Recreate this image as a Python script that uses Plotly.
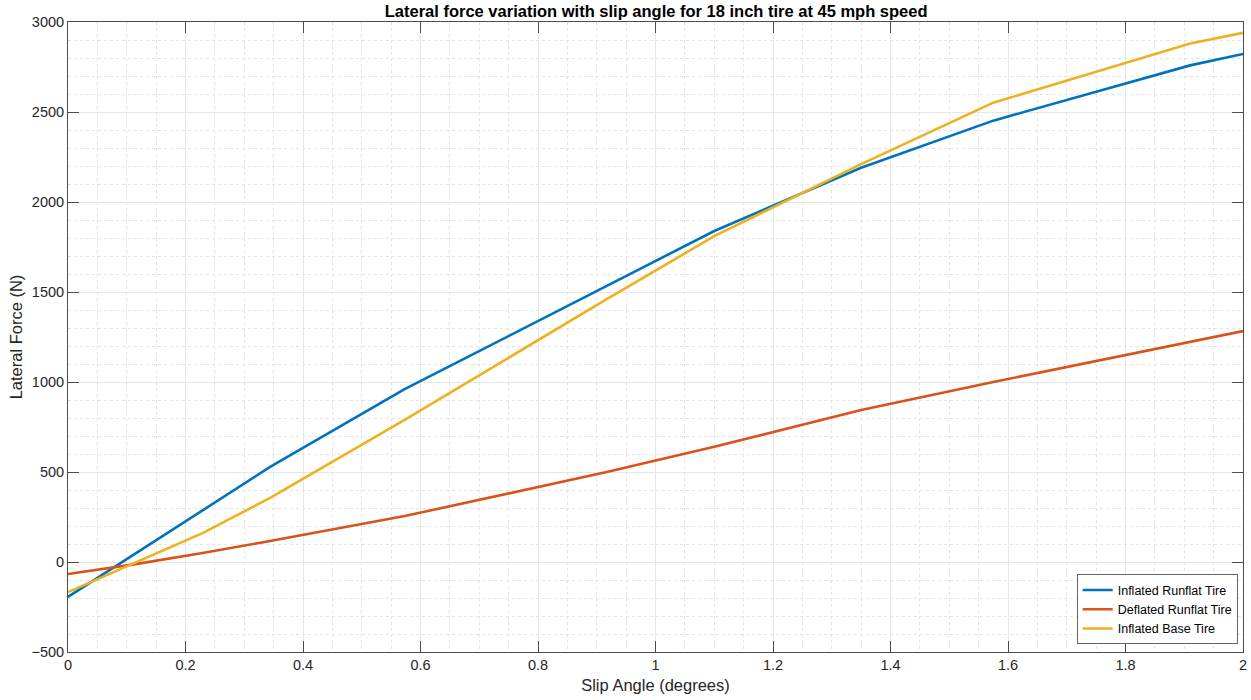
import plotly.graph_objects as go

slip_angle = [0, 0.115, 0.229, 0.344, 0.573, 0.917, 1.1, 1.35, 1.575, 1.91, 2.0]
inflated_runflat = [-194, 47, 287, 528, 960, 1534, 1839, 2190, 2452, 2759, 2822]
deflated_runflat = [-67, -12, 50, 117, 255, 500, 640, 845, 1000, 1223, 1283]
inflated_base = [-167, -4, 160, 356, 790, 1460, 1810, 2210, 2552, 2880, 2940]

series_names = ["Inflated Runflat Tire", "Deflated Runflat Tire", "Inflated Base Tire"]
series_values = [inflated_runflat, deflated_runflat, inflated_base]
colors = ["#0072BD", "#D95319", "#EDB120"]

fig = go.Figure()
for name, vals, col in zip(series_names, series_values, colors):
    fig.add_trace(go.Scatter(x=slip_angle, y=vals, mode="lines", name=name,
                             line=dict(color=col, width=2.6)))

font_family = "Liberation Sans, Arial, Helvetica, sans-serif"
axis_common = dict(
    showline=True, linecolor="#4d4d4d", linewidth=1, mirror="ticks",
    ticks="inside", ticklen=11, tickcolor="#4d4d4d", tickwidth=1,
    showgrid=True, gridcolor="#e6e6e6", gridwidth=1,
    zeroline=False, automargin=False, ticklabeloverflow="allow",
    tickfont=dict(family=font_family, size=14.5, color="#262626"),
)

fig.update_layout(
    width=1251, height=700,
    margin=dict(l=68, r=8, t=22, b=48, autoexpand=False),
    paper_bgcolor="white", plot_bgcolor="white",
    title=dict(text="<b>Lateral force variation with slip angle for 18 inch tire at 45 mph speed</b>",
               x=0.5245, xanchor="center", y=0.984, yanchor="middle",
               font=dict(family=font_family, size=16.5, color="black")),
    xaxis=dict(range=[0, 2], dtick=0.2, tick0=0,
               title=dict(text="Slip Angle (degrees)", standoff=7,
                          font=dict(family=font_family, size=16.5, color="#262626")),
               minor=dict(dtick=0.05, showgrid=True, gridcolor="#e3e3e3", griddash="dot", ticks=""),
               **axis_common),
    yaxis=dict(range=[-500, 3000], dtick=500, tick0=0,
               title=dict(text="Lateral Force (N)", standoff=4,
                          font=dict(family=font_family, size=16.5, color="#262626")),
               minor=dict(dtick=100, showgrid=True, gridcolor="#e3e3e3", griddash="dot", ticks=""),
               **axis_common),
    legend=dict(x=0.9955, y=0.012, xanchor="right", yanchor="bottom",
                bgcolor="white", bordercolor="#666", borderwidth=1,
                font=dict(family=font_family, size=12.5, color="black"),
                tracegroupgap=0, itemwidth=30),
    showlegend=True,
)

fig.write_html("out.html",
               config={"displayModeBar": False},
               post_script="document.body.style.margin='0';document.body.style.overflow='hidden';")
